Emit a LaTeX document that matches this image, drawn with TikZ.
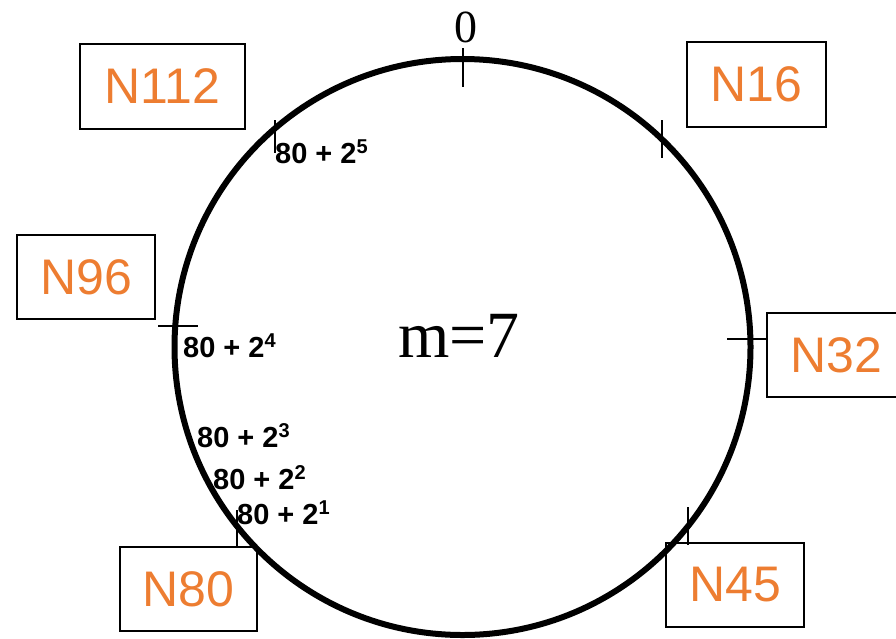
\documentclass[tikz,border=0pt]{standalone}
\usepackage{fontspec}
\setmainfont{Liberation Serif}
\setsansfont{Liberation Sans}
\definecolor{nodeorange}{RGB}{237,125,49}
\newcommand{\fingerexp}[1]{\raisebox{10pt}{\fontsize{20}{20}\selectfont #1}}
\begin{document}
\begin{tikzpicture}[x=1pt,y=-1pt,
  nodebox/.style={draw=black, line width=2pt, minimum width=138pt, minimum height=84pt, inner sep=0pt, text=nodeorange, font=\sffamily\fontsize{50}{50}\selectfont},
  ticklin/.style={line width=1.4pt},
  fingerlabel/.style={anchor=base west, inner sep=0pt, font=\sffamily\bfseries\fontsize{29}{29}\selectfont}]
\useasboundingbox (0,0) rectangle (896,638);
\begin{scope}
\clip (0,0) rectangle (896,638);
% ring
\draw[line width=6pt] (462.5,347) circle[radius=288pt];
% ticks
\draw[ticklin] (463,48) -- (463,87);
\draw[ticklin] (662,120) -- (662,158);
\draw[ticklin] (727,339) -- (767,339);
\draw[ticklin] (688,507) -- (688,545);
\draw[ticklin] (237,510) -- (237,547);
\draw[ticklin] (275,120) -- (275,153);
\draw[ticklin] (158,326) -- (198,326);
% boxes
\node[nodebox, minimum width=165pt, minimum height=85pt] (n112) at (162.5,86.5) {N112};
\node[nodebox, minimum width=139pt, minimum height=85pt] (n16) at (756.5,84.5) {N16};
\node[nodebox] (n96) at (86,277) {N96};
\node[nodebox] (n32) at (836,355) {N32};
\node[nodebox] (n45) at (735,585) {N45};
\node[nodebox, minimum width=137pt] (n80) at (188.5,589) {N80};
\end{scope}
% labels
\node[anchor=base, inner sep=0pt, font=\fontsize{46}{46}\selectfont] (zero) at (466,42) {0};
\node[anchor=base west, inner sep=0pt, font=\fontsize{66}{66}\selectfont] (mlabel) at (398,357) {m=7};
\node[fingerlabel] (f5) at (275,163) {80 + 2\fingerexp{5}};
\node[fingerlabel] (f4) at (183,357) {80 + 2\fingerexp{4}};
\node[fingerlabel] (f3) at (197,447) {80 + 2\fingerexp{3}};
\node[fingerlabel] (f2) at (213,489) {80 + 2\fingerexp{2}};
\node[fingerlabel] (f1) at (237,524) {80 + 2\fingerexp{1}};
\end{tikzpicture}
\end{document}
